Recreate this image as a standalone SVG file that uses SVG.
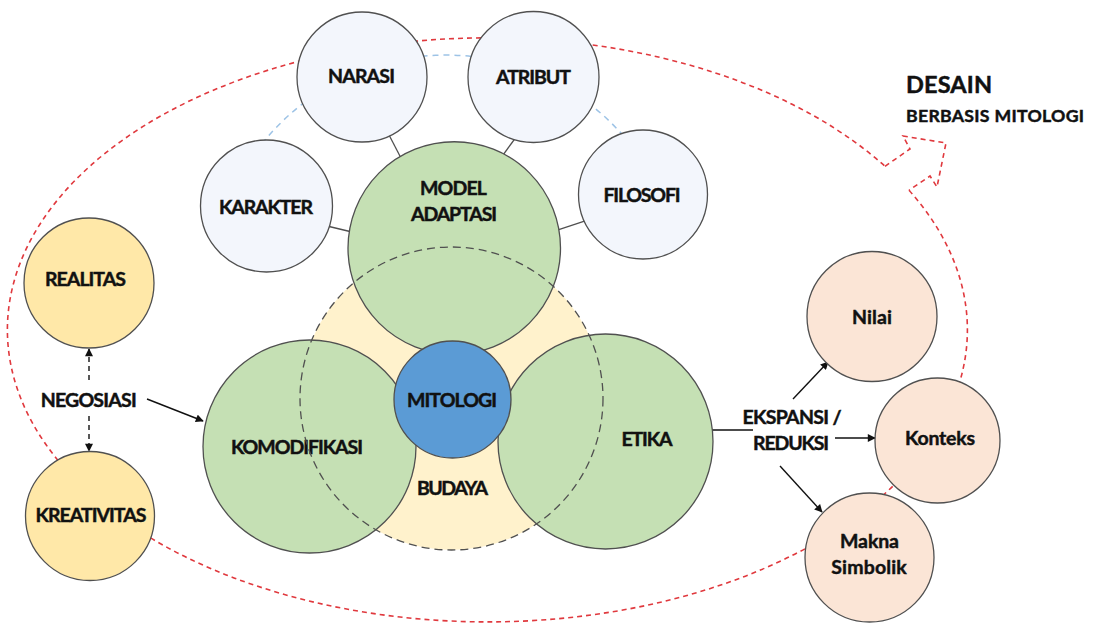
<svg xmlns="http://www.w3.org/2000/svg" width="1098" height="624" viewBox="0 0 1098 624">
<style>
  text { font-family: Lato, "Open Sans", "Liberation Sans", sans-serif; font-weight: bold; fill: #111; stroke: #111; stroke-width: 0.45; text-anchor: middle; font-size: 19.5px; }
  .node { stroke: #505050; stroke-width: 1.3; }
  .sat { fill: #F3F6FC; }
  .green { fill: #C5E0B4; }
  .gold { fill: #FFE8A8; }
  .peach { fill: #FBE5D6; }
  .red { fill: none; stroke: #E0393E; stroke-width: 1.6; stroke-dasharray: 5 4; }
  .blue { fill: none; stroke: #9DC3E6; stroke-width: 1.5; stroke-dasharray: 6 5; }
  .link { stroke: #505050; stroke-width: 1.3; fill: none; }
  .arrow { stroke: #111; stroke-width: 1.4; fill: none; marker-end: url(#ah); }
  .darrow { stroke: #111; stroke-width: 1.4; fill: none; stroke-dasharray: 5 4; marker-end: url(#ah); }
</style>
<defs>
  <marker id="ah" viewBox="0 0 10 10" refX="9" refY="5" markerWidth="9" markerHeight="8" markerUnits="userSpaceOnUse" orient="auto">
    <path d="M0,0 L10,5 L0,10 z" fill="#111"/>
  </marker>
</defs>
<rect width="1098" height="624" fill="#ffffff"/>

<g id="desain-arrow">
  <path class="red" d="M 909 190.3 A 480 292 0 1 1 885 166.3"/>
  <path class="red" d="M 885 166.3 L 910 149 L 903 136 L 946 143 L 937 187 L 930 176 L 909 190.3"/>
  <path class="blue" d="M 233 190.7 A 235 235 0 0 1 649.5 172.5"/>
</g>

<g id="connectors">
  <line class="link" x1="388" y1="133" x2="402" y2="160"/>
  <line class="link" x1="516.5" y1="136.5" x2="500.5" y2="158.5"/>
  <line class="link" x1="327" y1="226" x2="352" y2="232"/>
  <line class="link" x1="556.5" y1="230.3" x2="586" y2="220.7"/>
  <line class="darrow" x1="89" y1="380" x2="89" y2="349"/>
  <line class="darrow" x1="89" y1="416" x2="89" y2="451"/>
  <line class="arrow" x1="147" y1="399" x2="203" y2="421"/>
  <line class="link" x1="712" y1="430" x2="753" y2="430" style="stroke:#111"/>
  <line class="arrow" x1="793" y1="399" x2="828" y2="362"/>
  <line class="arrow" x1="835" y1="438" x2="875" y2="438"/>
  <line class="arrow" x1="780" y1="466" x2="822" y2="512"/>
</g>

<g id="narasi"><circle class="node sat" cx="362" cy="77" r="65"/><text x="361.5" y="83.3" textLength="67">NARASI</text></g>
<g id="atribut"><circle class="node sat" cx="533.5" cy="77" r="65.5"/><text x="533.5" y="83.5" textLength="75">ATRIBUT</text></g>
<g id="karakter"><circle class="node sat" cx="266.5" cy="206" r="66"/><text x="266" y="213.7" textLength="94">KARAKTER</text></g>
<g id="filosofi"><circle class="node sat" cx="643" cy="194.5" r="64.5"/><text x="642" y="202" textLength="77">FILOSOFI</text></g>

<g id="budaya"><circle cx="451.5" cy="398.5" r="151.5" fill="#FFF2CC"/><text x="452.5" y="495" textLength="71">BUDAYA</text></g>

<g id="model-adaptasi"><circle class="node green" cx="454.25" cy="248" r="106.25"/><text x="453.5" y="195" textLength="67">MODEL</text><text x="454" y="221" textLength="86">ADAPTASI</text></g>
<g id="komodifikasi"><circle class="node green" cx="309.5" cy="446.5" r="106.5"/><text x="297" y="454" textLength="132">KOMODIFIKASI</text></g>
<g id="etika"><circle class="node green" cx="605.5" cy="441.5" r="107.5"/><text x="647" y="446" textLength="51">ETIKA</text></g>

<g id="budaya-outline"><circle cx="451.5" cy="398.5" r="151.5" fill="none" stroke="#505050" stroke-width="1.3" stroke-dasharray="8 5"/></g>

<g id="mitologi"><circle class="node" cx="452.5" cy="399.5" r="58.5" fill="#5B9BD5"/><text x="452" y="407" textLength="90">MITOLOGI</text></g>

<g id="realitas"><circle class="node gold" cx="89" cy="283" r="65"/><text x="85.5" y="286" textLength="81">REALITAS</text></g>
<g id="kreativitas"><circle class="node gold" cx="90" cy="516" r="64.5"/><text x="91" y="522" textLength="111">KREATIVITAS</text></g>
<g id="negosiasi"><text x="88.7" y="407" textLength="96">NEGOSIASI</text></g>

<g id="ekspansi-reduksi"><text x="792" y="424" textLength="99">EKSPANSI /</text><text x="791" y="450" textLength="76">REDUKSI</text></g>

<g id="nilai"><circle class="node peach" cx="872" cy="316.5" r="65"/><text x="872" y="324" textLength="40">Nilai</text></g>
<g id="konteks"><circle class="node peach" cx="937.5" cy="440.5" r="62.5"/><text x="940" y="445" textLength="70">Konteks</text></g>
<g id="makna-simbolik"><circle class="node peach" cx="869.5" cy="557.5" r="64.5"/><text x="869.5" y="548.3" textLength="59">Makna</text><text x="869" y="574" textLength="75.6">Simbolik</text></g>

<g id="desain-label">
  <text x="906" y="93.3" style="text-anchor:start;font-size:23.5px" textLength="86">DESAIN</text>
  <text x="906" y="121.7" style="text-anchor:start;font-size:17.7px" textLength="178">BERBASIS MITOLOGI</text>
</g>
</svg>
